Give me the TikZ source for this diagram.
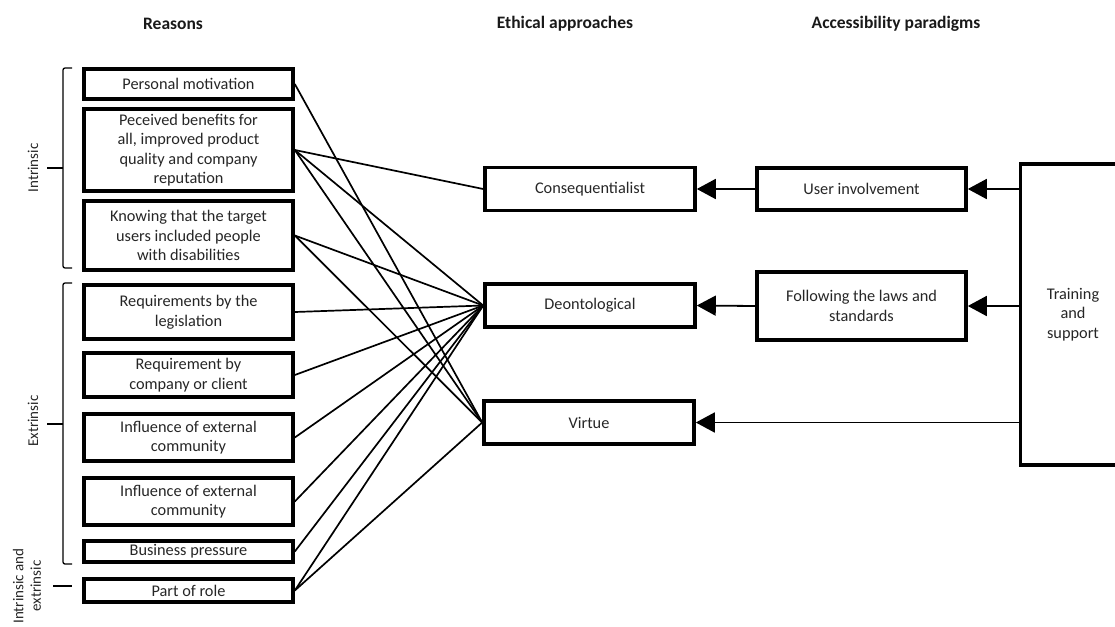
\documentclass[tikz,border=0pt]{standalone}
\usepackage{fontspec}
\setmainfont{Carlito}
\usetikzlibrary{arrows.meta}
\begin{document}
\begin{tikzpicture}[x=1pt,y=-1pt,
  box/.style={draw, line width=3.6pt, inner sep=0pt, align=center, text=black!85, font=\fontsize{16.3}{19.5}\selectfont},
  lbox/.style={box, minimum width=209pt},
  mbox/.style={box, minimum width=210pt, minimum height=43pt},
  link/.style={line width=1.7pt},
  arr/.style={line width=1.8pt, -{Triangle[length=19pt,width=20pt]}},
  bracket/.style={line width=1.3pt, rounded corners=2pt},
  head/.style={text=black!90, font=\fontsize{17.5}{20}\selectfont\bfseries},
  side/.style={rotate=90, align=center, text=black!85, font=\fontsize{15}{17.5}\selectfont}]
\useasboundingbox (0,0) rectangle (1115,626);
\clip (0,0) rectangle (1115,626);

% headers
\node[head] (h1) at (173,24) {Reasons};
\node[head] (h2) at (565,24) {Ethical approaches};
\node[head] (h3) at (896,24) {Accessibility paradigms};

% left boxes
\node[lbox, minimum height=30pt] (pm) at (188.5,84) {Personal motivation};
\node[lbox, minimum height=82pt] (pb) at (188.5,150) {Peceived benefits for\\all, improved product\\quality and company\\reputation};
\node[lbox, minimum height=69pt] (kn) at (188.5,235.5) {Knowing that the target\\users included people\\with disabilities};
\node[lbox, minimum height=54pt] (leg) at (188.5,312) {Requirements by the\\legislation};
\node[lbox, minimum height=44pt] (comp) at (188.5,375) {Requirement by\\company or client};
\node[lbox, minimum height=47pt] (inf1) at (188.5,437.5) {Influence of external\\community};
\node[lbox, minimum height=47pt] (inf2) at (188.5,501.5) {Influence of external\\community};
\node[lbox, minimum height=21pt] (bus) at (188.5,551.5) {Business pressure};
\node[lbox, minimum height=23pt] (por) at (188.5,590.5) {Part of role};

% brackets and side labels
\draw[bracket] (72,68) -- (63,68) -- (63,268) -- (72,268);
\draw[bracket] (47,168) -- (63,168);
\node[side] (lin) at (33,168) {Intrinsic};
\draw[bracket] (72,283) -- (63,283) -- (63,564) -- (72,564);
\draw[bracket] (47,424) -- (63,424);
\node[side] (lex) at (33,421) {Extrinsic};
\draw[bracket] (53,586) -- (72,586);
\node[side] (lie) at (27,586) {Intrinsic and\\extrinsic};

% middle boxes
\node[mbox] (cons) at (590,189) {Consequentialist};
\node[mbox] (deon) at (590,305.5) {Deontological};
\node[mbox] (virt) at (589,422.5) {Virtue};

% right boxes
\node[lbox, minimum height=42pt] (ui) at (861.5,189) {User involvement};
\node[lbox, minimum height=68pt] (fol) at (861.5,306) {Following the laws and\\standards};
\node[box, minimum width=105pt, minimum height=301pt] (train) at (1073,314.5) {Training\\and\\support};

% links reasons -> approaches
\draw[link] (pm.east) -- (virt.west);
\draw[link] (pb.east) -- (cons.west);
\draw[link] (pb.east) -- (deon.west);
\draw[link] (pb.east) -- (virt.west);
\draw[link] (kn.east) -- (deon.west);
\draw[link] (kn.east) -- (virt.west);
\draw[link] (leg.east) -- (deon.west);
\draw[link] (comp.east) -- (deon.west);
\draw[link] (inf1.east) -- (deon.west);
\draw[link] (inf2.east) -- (deon.west);
\draw[link] (bus.east) -- (deon.west);
\draw[link] (por.east) -- (deon.west);
\draw[link] (por.east) -- (virt.west);

% arrows
\draw[arr] (train.west |- ui.east) -- (ui.east);
\draw[arr] (ui.west) -- (cons.east);
\draw[arr] (train.west |- fol.east) -- (fol.east);
\draw[arr] (fol.west) -- (deon.east);
\draw[arr] (train.west |- virt.east) -- (virt.east);
\end{tikzpicture}
\end{document}
